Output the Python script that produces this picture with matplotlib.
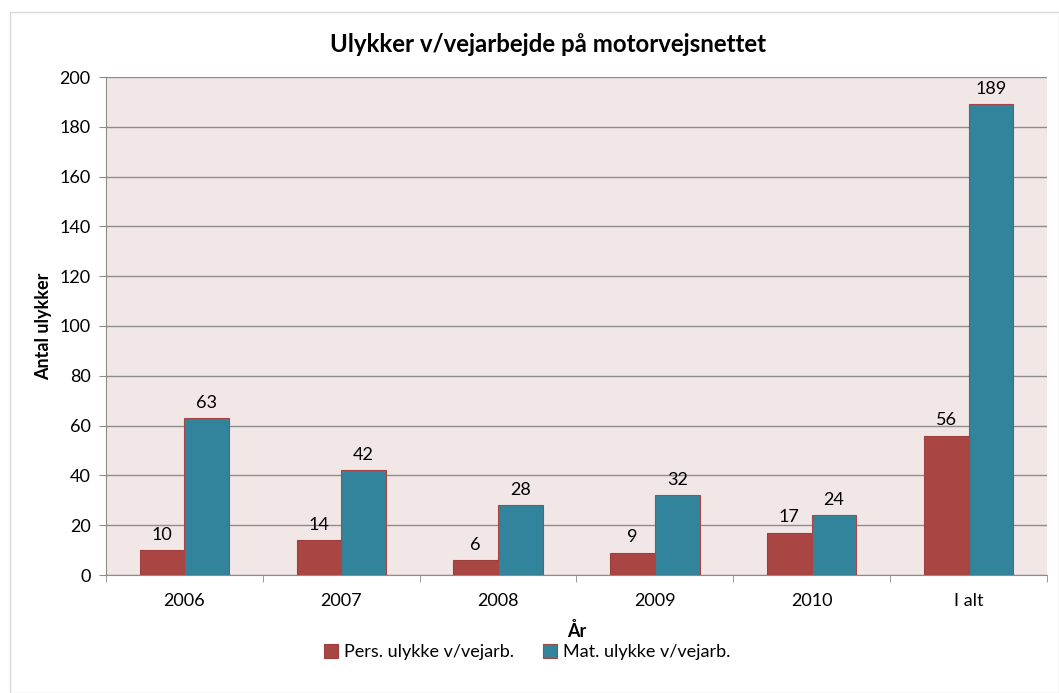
import numpy as np
import matplotlib.pyplot as plt
from matplotlib.patches import Rectangle

categories = ['2006', '2007', '2008', '2009', '2010', 'I alt']
pers = [10, 14, 6, 9, 17, 56]
mat = [63, 42, 28, 32, 24, 189]

plt.rcParams['font.family'] = ['Lato', 'DejaVu Sans']

fig = plt.figure(figsize=(10.59, 6.93), dpi=100)
fig.patches.append(Rectangle((10/1059, 0), 1 - 10/1059, 1 - 12/693, transform=fig.transFigure,
                             fill=False, edgecolor='#d9d9d9', linewidth=1))
ax = fig.add_axes([106/1059, 1 - 575/693, 941/1059, 498/693])
ax.set_facecolor('#f2e7e7')

x = np.arange(len(categories))
w = 0.285
b1 = ax.bar(x - w/2, pers, w, color='#a94644', edgecolor='#9c3f3d', linewidth=0.8, zorder=3,
            label='Pers. ulykke v/vejarb.')
b2 = ax.bar(x + w/2, mat, w, color='#31849b', edgecolor='#a94644', linewidth=0.8, zorder=3,
            label='Mat. ulykke v/vejarb.')
for bars, vals in [(b1, pers), (b2, mat)]:
    for r, v in zip(bars, vals):
        ax.text(r.get_x() + r.get_width()/2, v + 3, str(v), ha='center', va='bottom', fontsize=13)

ax.set_xlim(-0.5, len(categories) - 0.5)
ax.set_ylim(0, 200)
ax.set_yticks(range(0, 201, 20))
ax.yaxis.grid(True, color='#8c8c8c', linewidth=1, zorder=0)
ax.set_axisbelow(True)
ax.set_xticks(x)
ax.set_xticklabels(categories)
ax.set_xticks(np.arange(-0.5, len(categories)), minor=True)
ax.tick_params(axis='x', which='major', length=0, pad=13, labelsize=13)
ax.tick_params(axis='x', which='minor', length=5, color='#8c8c8c')
ax.tick_params(axis='y', length=5, pad=6, color='#8c8c8c', labelsize=13)
for s in ['top', 'right']:
    ax.spines[s].set_visible(False)
for s in ['left', 'bottom']:
    ax.spines[s].set_color('#8c8c8c')

fig.text(548/1059, 1 - 45/693, 'Ulykker v/vejarbejde på motorvejsnettet', ha='center', va='center',
         fontsize=17.3, fontweight='bold')
ax.set_xlabel('År', fontsize=13, fontweight='bold', labelpad=9)
ax.set_ylabel('Antal ulykker', fontsize=13, fontweight='bold', labelpad=5)

fig.legend(loc='center', bbox_to_anchor=(527/1059, 1 - 652/693), ncol=2, frameon=False, fontsize=13,
           handlelength=0.8, handleheight=0.8, handletextpad=0.3, columnspacing=1.6)

fig.savefig('out.png', dpi=100)
